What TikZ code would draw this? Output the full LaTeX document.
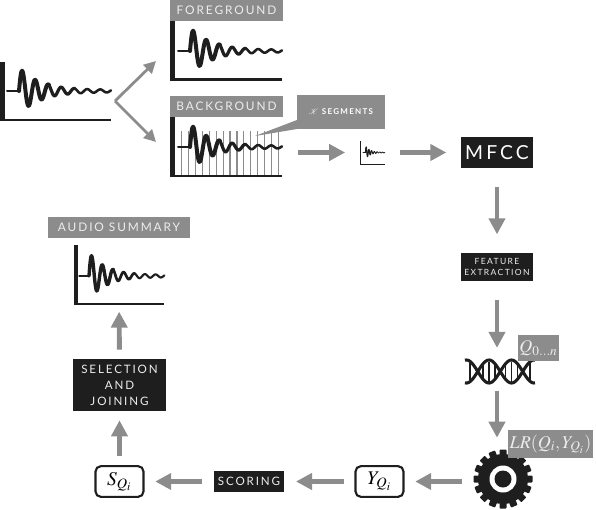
\documentclass[tikz,border=0pt]{standalone}
\usepackage{mathptmx}
\usepackage{fontspec}
\usetikzlibrary{calc,arrows.meta,positioning}
\newfontfamily\capsfont[LetterSpace=16]{Lato}
\definecolor{inkc}{HTML}{1E1E1E}
\definecolor{arrowc}{HTML}{8C8C8C}
\definecolor{labelc}{HTML}{EDEDED}
\tikzset{
  graybox/.style={fill=arrowc,text=labelc,inner sep=0pt,outer sep=0pt,align=center,font=\capsfont\fontsize{8.9}{12}\selectfont},
  blackbox/.style={fill=inkc,text=labelc,inner sep=0pt,outer sep=0pt,align=center,font=\capsfont\fontsize{8.7}{12}\selectfont},
  mathbox/.style={draw=inkc,line width=1.6pt,rounded corners=4pt,fill=white,inner sep=0pt,minimum width=36pt,minimum height=23pt,font=\fontsize{14.5}{15}\selectfont},
  mathlabel/.style={fill=arrowc,text=labelc,inner sep=0pt,outer sep=0pt,font=\fontsize{13.5}{14}\selectfont},
  plotbox/.style={inner sep=0pt,outer sep=0pt},
  bigarrow/.style={draw=arrowc,line width=3.7pt,-{Triangle[length=12pt,width=12pt]}},
  splitarrow/.style={draw=arrowc,line width=2.1pt,-{Triangle[length=9pt,width=9pt]}}
}
% #1,#2 onset of the wave, #3,#4 scale, #5 pen factor
\newcommand{\wavesig}[5]{
\begin{scope}[shift={(#1,#2)},xscale=#3,yscale=#4,inkc,line cap=round,line join=round]
\draw[line width=#5*1.5pt] (-12,0)--(0,0);
\draw[line width=#5*3pt,domain=0:30,samples=50,smooth] plot ({\x},{-(22*exp(-.05*\x)+1.5)*sin(27.69*\x)});
\draw[line width=#5*2.4pt,domain=30:56,samples=40,smooth] plot ({\x},{-(22*exp(-.05*\x)+1.2)*sin(27.69*\x)});
\draw[line width=#5*1.9pt,domain=56:92,samples=50,smooth] plot ({\x},{-(22*exp(-.05*\x)+1.2)*sin(27.69*\x)});
\end{scope}}
\newcommand{\sigaxes}[5]{\fill[inkc] (#1,#2) rectangle (#1+#5,#4);\fill[inkc] (#1,#4-.5*#5) rectangle (#3,#4);}
\begin{document}
\begin{tikzpicture}[x=.75pt,y=-.75pt]
\useasboundingbox (0,0) rectangle (596,510);
% input signal and its two parts
\node[plotbox,minimum width=83pt,minimum height=44pt] (inplot) at (55.5,91.5) {};
\sigaxes{0}{62}{111}{121}{5}\wavesig{19}{91}{1}{1}{1}
\node[graybox,minimum width=84.75pt,minimum height=15.75pt] (fghead) at (226.5,10.5) {FOREGROUND};
\node[plotbox,minimum width=84pt,minimum height=45pt] (fgplot) at (226,51) {};
\sigaxes{170}{21}{282}{81}{5}\wavesig{190}{51}{1}{1}{1}
\node[graybox,minimum width=84.75pt,minimum height=15.75pt] (bghead) at (226.5,106.5) {BACKGROUND};
\node[plotbox,minimum width=84.75pt,minimum height=44pt] (bgplot) at (226.5,152.5) {};
\foreach \i in {0,...,14}{\draw[arrowc,line width=.9pt] (181.7+\i*6.9,131)--(181.7+\i*6.9,175);}
\sigaxes{170}{117}{282}{177}{5}\wavesig{190}{147}{1}{1}{1}
\coordinate (split) at (115,101);
\coordinate (fgend) at (156,61);
\coordinate (bgend) at (156,142);
\draw[splitarrow] (split)--(fgend);
\draw[splitarrow] (split)--(bgend);
% segments
\node[graybox,minimum width=66pt,minimum height=25.5pt,text=white,font=\capsfont\bfseries\fontsize{6}{7}\selectfont] (segments) at (341,112) {$\mathcal{K}$ SEGMENTS};
\coordinate (segtip) at (255,136);
\fill[arrowc] ($(segments.south west)+(0,-9)$)--(segtip)--(segments.south west)--cycle;
\node[plotbox,minimum width=19pt,minimum height=17pt] (segplot) at (372.5,152.5) {};
\sigaxes{360}{141}{385}{164.5}{.8}\wavesig{365.5}{152.5}{.21}{.27}{.3}
\node[blackbox,minimum width=54pt,minimum height=23.25pt,text=white,font=\capsfont\fontsize{14.5}{16}\selectfont] (mfcc) at (497,152.5) {MFCC};
\node[blackbox,minimum width=54pt,minimum height=21pt,font=\capsfont\fontsize{6.4}{8.4}\selectfont] (feature) at (497,267) {FEATURE\\EXTRACTION};
\draw[bigarrow,shorten <=11pt,shorten >=11pt] (bgplot)--(segplot);
\draw[bigarrow,shorten <=11pt,shorten >=11pt] (segplot)--(mfcc);
\draw[bigarrow,shorten <=14pt,shorten >=14pt] (mfcc)--(feature);
% dna strands
\node[plotbox,minimum width=52.5pt,minimum height=19.5pt] (dna) at (500,371.5) {};
\foreach \xr in {470,483,489,495,505.5,511.5,517.5,530}{\draw[inkc,line width=.9pt] (\xr,{371.5-10*abs(cos(8*(\xr-489)))})--(\xr,{371.5+10*abs(cos(8*(\xr-489)))});}
\draw[inkc,line width=2.3pt,domain=465:535,samples=70,smooth] plot ({\x},{371.5+11.5*cos(8*(\x-489))});
\draw[inkc,line width=2.3pt,domain=465:535,samples=70,smooth] plot ({\x},{371.5-11.5*cos(8*(\x-489))});
\node[mathlabel,minimum width=30.75pt,minimum height=19.5pt] (qlabel) at (538.5,348) {$Q_{0\ldots n}$};
% gear
\node[plotbox,circle,minimum size=44pt] (gear) at (503,479) {};
\fill[inkc] (gear) circle (25);
\foreach \a in {0,22.5,...,340}{\fill[inkc,rotate around={\a:(gear)},rounded corners=.6pt] ($(gear)+(-3.5,-29.5)$) rectangle ($(gear)+(3.5,-20)$);}
\fill[white] (gear) circle (13.5);
\fill[inkc] (gear) circle (8.5);
\node[mathlabel,minimum width=63.75pt,minimum height=21pt] (lrlabel) at (550.5,444) {$LR(Q_i,Y_{Q_i})$};
\draw[bigarrow,shorten <=14pt,shorten >=8pt] (feature)--(dna.north-|feature);
\draw[bigarrow,shorten <=4.5pt,shorten >=9pt] (dna.south-|feature)--(gear.north-|feature);
% scoring path
\node[mathbox] (yq) at (379.5,481.5) {$Y_{Q_i}$};
\node[blackbox,minimum width=52.5pt,minimum height=15.75pt] (scoring) at (249,481.5) {SCORING};
\node[mathbox] (sq) at (119.5,481.5) {$S_{Q_i}$};
\node[blackbox,minimum width=69.75pt,minimum height=39pt] (selection) at (119.5,385) {SELECTION\\AND\\JOINING};
\node[plotbox,minimum width=67pt,minimum height=45pt] (sumplot) at (119,275) {};
\sigaxes{74}{245}{164}{305}{4}\wavesig{89}{276}{.82}{1}{.85}
\node[graybox,minimum width=106.5pt,minimum height=15.75pt] (sumhead) at (119,227.5) {AUDIO SUMMARY};
\draw[bigarrow,shorten <=9pt,shorten >=8pt] (gear.west|-yq)--(yq);
\draw[bigarrow,shorten <=7.5pt,shorten >=9pt] (yq)--(scoring);
\draw[bigarrow,shorten <=9pt,shorten >=8pt] (scoring)--(sq);
\draw[bigarrow,shorten <=7pt,shorten >=7pt] (sq)--(selection);
\draw[bigarrow,shorten <=7pt,shorten >=5pt] (selection)--(sumplot);
\end{tikzpicture}
\end{document}
